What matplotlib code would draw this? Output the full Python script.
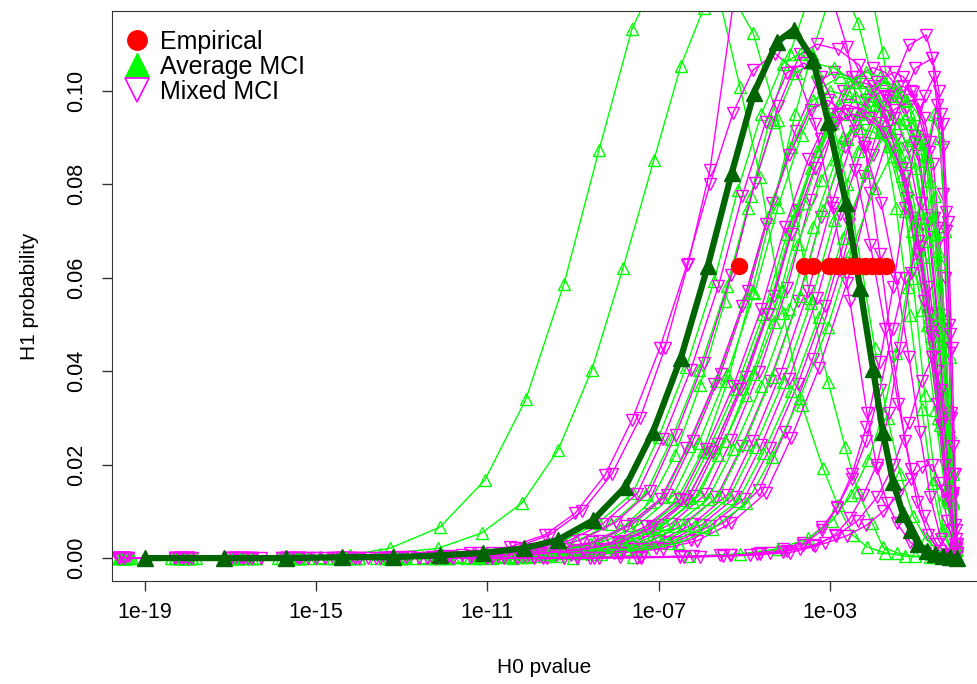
import matplotlib.pyplot as plt
from matplotlib.lines import Line2D
import numpy as np

plt.rcParams['font.family'] = ['Liberation Sans', 'DejaVu Sans']

# log10(H0 pvalue) and H1 probability, one pair of lists per curve

# Average MCI (green, open up-triangles)
avg_1_lp = [-19.5, -18.1, -16.8, -15.5, -14.2, -13.28, -12.11, -11.06, -10.10, -9.21, -8.39, -7.62, -6.85, -6.27, -5.66, -5.10, -4.63, -4.09, -3.65, -3.16, -2.81, -2.46, -2.13, -1.71, -1.24, -0.66, -0.07]
avg_1_h1 = [0, 0, 0.0001, 0.0003, 0.0007, 0.0021, 0.0066, 0.0167, 0.0340, 0.0587, 0.0874, 0.1133, 0.1281, 0.1313, 0.1229, 0.1009, 0.0816, 0.0525, 0.0328, 0.0193, 0.0113, 0.0049, 0.0024, 0.0011, 0.0004, 0.0002, 0.0001]
avg_2_lp = [-19.4, -17.9, -16.4, -14.9, -13.5, -12.15, -11.13, -10.19, -9.35, -8.56, -7.83, -7.11, -6.48, -5.94, -5.38, -4.79, -4.21, -3.81, -3.46, -3.04, -2.64, -2.34, -2.01, -1.76, -1.43, -1.01, -0.54]
avg_2_h1 = [0, 0, 0, 0.0002, 0.0008, 0.0021, 0.0054, 0.0118, 0.0231, 0.0403, 0.0621, 0.0852, 0.1054, 0.1178, 0.1220, 0.1124, 0.0938, 0.0745, 0.0557, 0.0377, 0.0238, 0.0141, 0.0075, 0.0024, 0.0011, 0.0004, 0.0002]
avg_3_lp = [-19.6, -18.2, -16.9, -15.6, -14.3, -13.0, -11.7, -10.36, -9.42, -8.60, -7.90, -7.20, -6.62, -6.03, -5.45, -4.91, -4.40, -3.93, -3.42, -2.88, -2.34, -1.87, -1.45, -1.13, -0.85, -0.61, -0.38, -0.14]
avg_3_h1 = [0, 0, 0, 0, 0, 0.0001, 0.0002, 0.0005, 0.0012, 0.003, 0.006, 0.012, 0.022, 0.037, 0.055, 0.075, 0.094, 0.108, 0.122, 0.126, 0.1146, 0.098, 0.075, 0.052, 0.032, 0.016, 0.006, 0.001]
avg_4_lp = [-19.45, -18.0, -16.6, -15.3, -14.0, -12.7, -11.4, -10.5, -9.65, -8.72, -7.90, -7.20, -6.55, -5.96, -5.38, -4.82, -4.28, -3.81, -3.42, -3.00, -2.48, -2.01, -1.76, -1.36, -1.06, -0.78, -0.54, -0.33, -0.12]
avg_4_h1 = [0, 0, 0, 0, 0, 0.0001, 0.0002, 0.0003, 0.0005, 0.0013, 0.003, 0.0065, 0.013, 0.023, 0.038, 0.057, 0.077, 0.095, 0.108, 0.12, 0.126, 0.12, 0.1083, 0.085, 0.06, 0.035, 0.017, 0.006, 0.001]
avg_5_lp = [-19.55, -18.2, -16.9, -15.7, -14.5, -13.3, -12.2, -11.06, -10.06, -9.06, -8.26, -7.46, -6.66, -6.06, -5.41, -4.76, -4.21, -3.66, -3.16, -2.76, -2.35, -1.95, -1.40, -1.00, -0.67, -0.43, -0.24, -0.05]
avg_5_h1 = [0, 0, 0, 0, 0, 0, 0.0002, 0.0005, 0.0010, 0.0020, 0.0036, 0.0072, 0.0134, 0.0247, 0.0391, 0.0567, 0.0752, 0.0906, 0.1009, 0.1030, 0.1020, 0.0989, 0.0886, 0.0721, 0.0515, 0.0309, 0.0134, 0.0021]
avg_6_lp = [-19.3, -17.8, -16.5, -15.2, -14.0, -12.9, -11.8, -10.7, -9.7, -8.7, -7.9, -7.1, -6.3, -5.7, -5.05, -4.4, -3.85, -3.3, -2.8, -2.4, -2.05, -1.70, -1.23, -0.89, -0.61, -0.40, -0.23, -0.07]
avg_6_h1 = [0, 0, 0, 0, 0, 0.0001, 0.0002, 0.0005, 0.0010, 0.0019, 0.0035, 0.0069, 0.0129, 0.0238, 0.0376, 0.0545, 0.0723, 0.0871, 0.0970, 0.0990, 0.0980, 0.0950, 0.0851, 0.0693, 0.0495, 0.0297, 0.0129, 0.0020]
avg_7_lp = [-19.6, -18.4, -17.0, -15.8, -14.6, -13.4, -12.3, -11.4, -10.45, -9.45, -8.45, -7.65, -6.85, -6.05, -5.45, -4.8, -4.15, -3.6, -3.05, -2.55, -2.15, -1.83, -1.52, -1.10, -0.78, -0.53, -0.34, -0.20, -0.05]
avg_7_h1 = [0, 0, 0, 0, 0, 0, 0.0001, 0.0003, 0.0005, 0.0010, 0.0020, 0.0036, 0.0073, 0.0135, 0.0250, 0.0395, 0.0572, 0.0759, 0.0915, 0.1019, 0.1040, 0.1030, 0.0998, 0.0894, 0.0728, 0.0520, 0.0312, 0.0135, 0.0021]
avg_8_lp = [-19.45, -18.0, -16.7, -15.5, -14.3, -13.2, -12.1, -11.1, -10.25, -9.25, -8.25, -7.45, -6.65, -5.85, -5.25, -4.6, -3.95, -3.4, -2.85, -2.35, -1.95, -1.67, -1.39, -1.01, -0.73, -0.50, -0.33, -0.20, -0.07]
avg_8_h1 = [0, 0, 0, 0, 0, 0, 0.0001, 0.0003, 0.0005, 0.0010, 0.0018, 0.0034, 0.0068, 0.0126, 0.0233, 0.0369, 0.0534, 0.0708, 0.0854, 0.0951, 0.0970, 0.0960, 0.0931, 0.0834, 0.0679, 0.0485, 0.0291, 0.0126, 0.0019]
avg_9_lp = [-19.6, -18.3, -17.1, -15.9, -14.7, -13.6, -12.5, -11.5, -10.7, -10.0, -9.0, -8.0, -7.2, -6.4, -5.6, -5.0, -4.35, -3.7, -3.15, -2.6, -2.1, -1.7, -1.45, -1.20, -0.87, -0.63, -0.43, -0.28, -0.17, -0.05]
avg_9_h1 = [0, 0, 0, 0, 0, 0, 0, 0.0001, 0.0003, 0.0005, 0.0010, 0.0019, 0.0036, 0.0071, 0.0133, 0.0245, 0.0388, 0.0561, 0.0745, 0.0898, 0.1000, 0.1020, 0.1010, 0.0979, 0.0877, 0.0714, 0.0510, 0.0306, 0.0133, 0.0020]
avg_10_lp = [-19.5, -18.1, -16.8, -15.6, -14.4, -13.3, -12.2, -11.2, -10.4, -9.75, -8.75, -7.75, -6.95, -6.15, -5.35, -4.75, -4.1, -3.45, -2.9, -2.35, -1.85, -1.45, -1.24, -1.04, -0.76, -0.55, -0.39, -0.26, -0.17, -0.07]
avg_10_h1 = [0, 0, 0, 0, 0, 0, 0, 0.0001, 0.0003, 0.0005, 0.0010, 0.0019, 0.0035, 0.0069, 0.0129, 0.0238, 0.0376, 0.0545, 0.0723, 0.0871, 0.0970, 0.0990, 0.0980, 0.0950, 0.0851, 0.0693, 0.0495, 0.0297, 0.0129, 0.0020]
avg_11_lp = [-19.35, -17.9, -16.6, -15.4, -14.2, -13.0, -11.9, -10.9, -10.1, -9.55, -8.55, -7.55, -6.75, -5.95, -5.15, -4.55, -3.9, -3.25, -2.7, -2.15, -1.65, -1.25, -1.07, -0.89, -0.65, -0.47, -0.33, -0.22, -0.13, -0.05]
avg_11_h1 = [0, 0, 0, 0, 0, 0, 0, 0.0001, 0.0003, 0.0005, 0.0009, 0.0018, 0.0033, 0.0066, 0.0122, 0.0226, 0.0357, 0.0517, 0.0686, 0.0827, 0.0921, 0.0940, 0.0931, 0.0902, 0.0808, 0.0658, 0.0470, 0.0282, 0.0122, 0.0019]
avg_12_lp = [-19.5, -18.0, -16.6, -15.3, -14.1, -13.0, -11.9, -10.85, -9.85, -8.85, -8.05, -7.25, -6.45, -5.85, -5.2, -4.55, -4.0, -3.45, -2.95, -2.55, -2.18, -1.81, -1.31, -0.94, -0.64, -0.42, -0.24, -0.07]
avg_12_h1 = [0, 0, 0, 0, 0, 0.0001, 0.0003, 0.0005, 0.0010, 0.0018, 0.0033, 0.0067, 0.0124, 0.0228, 0.0361, 0.0523, 0.0694, 0.0836, 0.0931, 0.0950, 0.0941, 0.0912, 0.0817, 0.0665, 0.0475, 0.0285, 0.0124, 0.0019]
avg_13_lp = [-19.6, -18.2, -16.9, -15.7, -14.5, -13.3, -12.2, -11.2, -10.2, -9.35, -8.35, -7.35, -6.55, -5.75, -4.95, -4.35, -3.7, -3.05, -2.5, -1.95, -1.45, -1.05, -0.90, -0.75, -0.55, -0.40, -0.28, -0.19, -0.12, -0.05]
avg_13_h1 = [0, 0, 0, 0, 0, 0, 0, 0.0001, 0.0003, 0.0005, 0.0009, 0.0017, 0.0032, 0.0063, 0.0117, 0.0216, 0.0342, 0.0495, 0.0657, 0.0792, 0.0882, 0.0900, 0.0891, 0.0864, 0.0774, 0.0630, 0.0450, 0.0270, 0.0117, 0.0018]
avg_14_lp = [-19.5, -18.2, -16.9, -15.6, -14.4, -13.2, -12.5, -11.7, -10.7, -9.7, -8.9, -8.1, -7.3, -6.7, -6.05, -5.4, -4.85, -4.3, -3.8, -3.4, -2.90, -2.40, -1.73, -1.24, -0.84, -0.54, -0.30, -0.07]
avg_14_h1 = [0, 0, 0, 0, 0, 0.0001, 0.0003, 0.0005, 0.0011, 0.0020, 0.0037, 0.0074, 0.0138, 0.0254, 0.0403, 0.0583, 0.0774, 0.0933, 0.1039, 0.1060, 0.1049, 0.1018, 0.0912, 0.0742, 0.0530, 0.0318, 0.0138, 0.0021]
avg_15_lp = [-19.6, -18.3, -17.0, -15.7, -14.5, -13.3, -12.2, -11.3, -10.3, -9.3, -8.5, -7.7, -6.9, -6.3, -5.65, -5.0, -4.45, -3.9, -3.4, -3.0, -2.56, -2.11, -1.52, -1.08, -0.73, -0.46, -0.26, -0.05]
avg_15_h1 = [0, 0, 0, 0, 0, 0.0001, 0.0003, 0.0005, 0.0010, 0.0019, 0.0035, 0.0070, 0.0130, 0.0240, 0.0380, 0.0550, 0.0730, 0.0880, 0.0980, 0.1000, 0.0990, 0.0960, 0.0860, 0.0700, 0.0500, 0.0300, 0.0130, 0.0020]
avg_16_lp = [-19.4, -18.0, -16.7, -15.4, -14.2, -13.0, -12.0, -11.0, -10.0, -9.2, -8.4, -7.6, -7.0, -6.35, -5.7, -5.15, -4.6, -4.1, -3.7, -3.3, -2.95, -2.6, -2.25, -1.95, -1.65, -1.35, -1.05, -0.75, -0.45, -0.15]
avg_16_h1 = [0, 0, 0, 0, 0, 0.0002, 0.0005, 0.0011, 0.0021, 0.0038, 0.0076, 0.0140, 0.0259, 0.0410, 0.0594, 0.0788, 0.0950, 0.1058, 0.1080, 0.104, 0.094, 0.080, 0.062, 0.045, 0.030, 0.018, 0.009, 0.004, 0.0015, 0.0004]
avg_17_lp = [-19.55, -18.1, -16.8, -15.5, -14.3, -13.1, -12.0, -11.2, -10.6, -9.6, -8.6, -7.8, -7.0, -6.2, -5.6, -4.95, -4.3, -3.75, -3.2, -2.7, -2.3, -1.96, -1.62, -1.17, -0.84, -0.57, -0.36, -0.21, -0.05]
avg_17_h1 = [0, 0, 0, 0, 0, 0, 0.0001, 0.0003, 0.0005, 0.0009, 0.0017, 0.0032, 0.0064, 0.0120, 0.0221, 0.0350, 0.0506, 0.0672, 0.0810, 0.0902, 0.0920, 0.0911, 0.0883, 0.0791, 0.0644, 0.0460, 0.0276, 0.0120, 0.0018]
avg_18_lp = [-19.55, -18.0, -16.4, -14.9, -13.4, -11.9, -10.4, -9.0, -7.6, -6.3, -5.1, -4.2, -3.5, -2.95, -2.5, -2.1, -1.75, -1.45, -1.18, -0.95, -0.75, -0.57, -0.42, -0.30, -0.20, -0.12, -0.05]
avg_18_h1 = [0, 0, 0, 0, 0, 0, 0, 0.0001, 0.0002, 0.0004, 0.0009, 0.0020, 0.0042, 0.0080, 0.0135, 0.0210, 0.031, 0.044, 0.058, 0.073, 0.086, 0.095, 0.090, 0.070, 0.043, 0.018, 0.003]

# Mixed MCI (magenta, open down-triangles)
mix_1_lp = [-19.63, -18.3, -17.0, -15.7, -14.4, -13.2, -12.11, -11.22, -10.36, -9.54, -8.79, -8.09, -7.43, -6.85, -6.31, -5.80, -5.21, -4.58, -3.93, -3.28, -2.60, -2.18, -1.83, -1.52, -1.24, -0.96, -0.71, -0.43, -0.15]
mix_1_h1 = [0, 0, 0, 0, 0.0001, 0.0002, 0.0004, 0.001, 0.0022, 0.005, 0.010, 0.018, 0.030, 0.045, 0.063, 0.083, 0.1216, 0.132, 0.136, 0.13, 0.1094, 0.088, 0.065, 0.043, 0.025, 0.012, 0.005, 0.0015, 0.0003]
mix_2_lp = [-19.5, -18.0, -16.6, -15.3, -14.0, -12.8, -11.41, -10.47, -9.65, -8.95, -8.25, -7.62, -6.97, -6.34, -5.80, -5.26, -4.79, -4.28, -3.77, -3.35, -2.93, -2.53, -2.13, -1.90, -1.66, -1.43, -1.13, -0.78, -0.43, -0.07]
mix_2_h1 = [0, 0, 0, 0, 0.0001, 0.0003, 0.001, 0.0024, 0.005, 0.0096, 0.0178, 0.0296, 0.045, 0.0627, 0.080, 0.0953, 0.1045, 0.108, 0.104, 0.093, 0.075, 0.055, 0.031, 0.0193, 0.0118, 0.0075, 0.0035, 0.0012, 0.0004, 0.0001]
mix_3_lp = [-19.63, -18.3, -17.0, -15.8, -14.6, -13.4, -12.3, -11.2, -10.2, -9.2, -8.4, -7.6, -6.8, -6.2, -5.55, -4.9, -4.35, -3.8, -3.3, -2.9, -2.47, -2.04, -1.47, -1.05, -0.71, -0.45, -0.25, -0.05]
mix_3_h1 = [0, 0, 0, 0, 0, 0.0001, 0.0003, 0.0005, 0.0010, 0.0020, 0.0036, 0.0073, 0.0135, 0.0250, 0.0395, 0.0572, 0.0759, 0.0915, 0.1019, 0.1040, 0.1030, 0.0998, 0.0894, 0.0728, 0.0520, 0.0312, 0.0135, 0.0021]
mix_4_lp = [-19.4, -18.0, -16.7, -15.4, -14.2, -13.1, -12.0, -11.2, -10.6, -9.6, -8.6, -7.8, -7.0, -6.2, -5.6, -4.95, -4.3, -3.75, -3.2, -2.7, -2.3, -1.97, -1.63, -1.18, -0.85, -0.58, -0.38, -0.23, -0.07]
mix_4_h1 = [0, 0, 0, 0, 0, 0, 0.0001, 0.0003, 0.0005, 0.0010, 0.0019, 0.0036, 0.0071, 0.0133, 0.0245, 0.0388, 0.0561, 0.0745, 0.0898, 0.1000, 0.1020, 0.1010, 0.0979, 0.0877, 0.0714, 0.0510, 0.0306, 0.0133, 0.0020]
mix_5_lp = [-19.6, -18.2, -16.9, -15.6, -14.4, -13.3, -12.2, -11.2, -10.3, -9.3, -8.3, -7.5, -6.7, -5.9, -5.3, -4.65, -4.0, -3.45, -2.9, -2.4, -2.0, -1.71, -1.41, -1.02, -0.73, -0.50, -0.32, -0.19, -0.05]
mix_5_h1 = [0, 0, 0, 0, 0, 0, 0.0001, 0.0003, 0.0005, 0.0011, 0.0020, 0.0037, 0.0074, 0.0137, 0.0252, 0.0399, 0.0578, 0.0767, 0.0924, 0.1029, 0.1050, 0.1040, 0.1008, 0.0903, 0.0735, 0.0525, 0.0315, 0.0137, 0.0021]
mix_6_lp = [-19.5, -18.1, -16.8, -15.5, -14.3, -13.2, -12.1, -11.0, -10.05, -9.05, -8.05, -7.25, -6.45, -5.65, -5.05, -4.4, -3.75, -3.2, -2.65, -2.15, -1.75, -1.50, -1.25, -0.91, -0.66, -0.46, -0.31, -0.19, -0.07]
mix_6_h1 = [0, 0, 0, 0, 0, 0, 0.0001, 0.0003, 0.0005, 0.0010, 0.0019, 0.0035, 0.0070, 0.0130, 0.0240, 0.0380, 0.0550, 0.0730, 0.0880, 0.0980, 0.1000, 0.0990, 0.0960, 0.0860, 0.0700, 0.0500, 0.0300, 0.0130, 0.0020]
mix_7_lp = [-19.63, -18.3, -17.0, -15.7, -14.5, -13.4, -12.3, -11.3, -10.5, -9.8, -8.8, -7.8, -7.0, -6.2, -5.4, -4.8, -4.15, -3.5, -2.95, -2.4, -1.9, -1.5, -1.28, -1.06, -0.77, -0.56, -0.38, -0.25, -0.15, -0.05]
mix_7_h1 = [0, 0, 0, 0, 0, 0, 0, 0.0001, 0.0003, 0.0005, 0.0010, 0.0020, 0.0036, 0.0073, 0.0135, 0.0250, 0.0395, 0.0572, 0.0759, 0.0915, 0.1019, 0.1040, 0.1030, 0.0998, 0.0894, 0.0728, 0.0520, 0.0312, 0.0135, 0.0021]
mix_8_lp = [-19.4, -18.0, -16.6, -15.4, -14.2, -13.0, -11.9, -10.9, -10.2, -9.6, -8.6, -7.6, -6.8, -6.0, -5.2, -4.6, -3.95, -3.3, -2.75, -2.2, -1.7, -1.3, -1.11, -0.92, -0.67, -0.49, -0.34, -0.22, -0.14, -0.05]
mix_8_h1 = [0, 0, 0, 0, 0, 0, 0, 0.0001, 0.0003, 0.0005, 0.0010, 0.0019, 0.0035, 0.0071, 0.0131, 0.0242, 0.0384, 0.0556, 0.0737, 0.0889, 0.0990, 0.1010, 0.1000, 0.0970, 0.0869, 0.0707, 0.0505, 0.0303, 0.0131, 0.0020]
mix_9_lp = [-19.6, -18.2, -16.9, -15.7, -14.5, -13.3, -12.2, -11.2, -10.3, -9.4, -8.4, -7.4, -6.6, -5.8, -5.0, -4.4, -3.75, -3.1, -2.55, -2.0, -1.5, -1.1, -0.95, -0.79, -0.58, -0.43, -0.31, -0.21, -0.14, -0.07]
mix_9_h1 = [0, 0, 0, 0, 0, 0, 0, 0.0001, 0.0003, 0.0005, 0.0010, 0.0019, 0.0034, 0.0069, 0.0127, 0.0235, 0.0372, 0.0539, 0.0715, 0.0862, 0.0960, 0.0980, 0.0970, 0.0941, 0.0843, 0.0686, 0.0490, 0.0294, 0.0127, 0.0020]
mix_10_lp = [-19.6, -18.3, -17.0, -15.8, -14.6, -13.4, -12.3, -11.2, -10.1, -9.05, -8.05, -7.05, -6.25, -5.45, -4.65, -4.05, -3.4, -2.75, -2.2, -1.65, -1.15, -0.75, -0.60, -0.46, -0.35, -0.30, -0.22, -0.17, -0.12, -0.07, -0.02]
mix_10_h1 = [0, 0, 0, 0, 0, 0, 0, 0.0001, 0.0003, 0.0006, 0.0011, 0.0021, 0.0039, 0.0078, 0.0146, 0.0269, 0.0426, 0.0616, 0.0818, 0.0986, 0.1098, 0.1120, 0.107, 0.093, 0.078, 0.060, 0.044, 0.031, 0.018, 0.007, 0.001]
mix_11_lp = [-19.5, -18.1, -16.8, -15.6, -14.4, -13.2, -12.0, -10.9, -9.9, -8.9, -7.9, -6.9, -6.1, -5.3, -4.5, -3.9, -3.25, -2.6, -2.05, -1.5, -1.0, -0.6, -0.45, -0.35, -0.28, -0.22, -0.16, -0.11, -0.06, -0.02]
mix_11_h1 = [0, 0, 0, 0, 0, 0, 0, 0.0001, 0.0003, 0.0005, 0.0011, 0.0020, 0.0037, 0.0075, 0.0139, 0.0257, 0.0407, 0.0589, 0.0781, 0.0942, 0.1049, 0.1070, 0.100, 0.088, 0.070, 0.050, 0.030, 0.014, 0.004, 0.0005]
mix_12_lp = [-19.5, -18.1, -16.8, -15.5, -14.3, -13.1, -12.0, -10.9, -9.9, -8.9, -8.1, -7.3, -6.5, -5.9, -5.25, -4.6, -4.05, -3.5, -3.0, -2.6, -2.22, -1.83, -1.32, -0.94, -0.64, -0.41, -0.23, -0.05]
mix_12_h1 = [0, 0, 0, 0, 0, 0.0001, 0.0003, 0.0005, 0.0010, 0.0018, 0.0034, 0.0068, 0.0126, 0.0233, 0.0369, 0.0534, 0.0708, 0.0854, 0.0951, 0.0970, 0.0960, 0.0931, 0.0834, 0.0679, 0.0485, 0.0291, 0.0126, 0.0019]
mix_13_lp = [-19.55, -18.0, -16.5, -15.0, -13.6, -12.2, -10.9, -9.6, -8.4, -7.4, -6.50, -5.57, -4.63, -4.09, -3.63, -3.18, -2.83, -2.48, -2.15, -1.83, -1.52, -1.24, -0.96, -0.71, -0.50, -0.31, -0.15, -0.03]
mix_13_h1 = [0, 0, 0, 0, 0, 0, 0, 0, 0.0001, 0.0002, 0.0003, 0.0006, 0.0012, 0.0019, 0.0032, 0.0066, 0.0109, 0.0170, 0.0250, 0.036, 0.049, 0.060, 0.065, 0.058, 0.040, 0.020, 0.006, 0.001]
mix_14_lp = [-19.6, -18.2, -16.8, -15.4, -14.0, -12.6, -11.2, -9.9, -8.6, -7.4, -6.2, -5.3, -4.4, -3.7, -3.1, -2.6, -2.15, -1.75, -1.4, -1.1, -0.84, -0.6, -0.43, -0.25, -0.08]
mix_14_h1 = [0, 0, 0, 0, 0, 0, 0, 0, 0.0001, 0.0002, 0.0004, 0.0007, 0.0012, 0.0020, 0.0032, 0.0048, 0.0070, 0.0100, 0.0135, 0.0170, 0.0195, 0.0200, 0.0160, 0.0080, 0.0015]
mix_15_lp = [-19.63, -18.2, -16.9, -15.6, -14.4, -13.2, -12.3, -11.6, -10.6, -9.6, -8.8, -8.0, -7.2, -6.6, -5.95, -5.3, -4.75, -4.2, -3.7, -3.3, -2.81, -2.32, -1.67, -1.19, -0.80, -0.50, -0.28, -0.05]
mix_15_h1 = [0, 0, 0, 0, 0, 0.0001, 0.0003, 0.0006, 0.0011, 0.0021, 0.0039, 0.0077, 0.0143, 0.0264, 0.0418, 0.0605, 0.0803, 0.0968, 0.1078, 0.1100, 0.1089, 0.1056, 0.0946, 0.0770, 0.0550, 0.0330, 0.0143, 0.0022]
mix_16_lp = [-19.45, -18.0, -16.7, -15.4, -14.2, -13.1, -12.1, -11.35, -10.35, -9.35, -8.55, -7.75, -6.95, -6.35, -5.7, -5.05, -4.5, -3.95, -3.45, -3.05, -2.6, -2.2, -1.8, -1.45, -1.15, -0.9, -0.65, -0.4, -0.15]
mix_16_h1 = [0, 0, 0, 0, 0, 0.0001, 0.0003, 0.0005, 0.0010, 0.0019, 0.0034, 0.0069, 0.0127, 0.0235, 0.0372, 0.0539, 0.0715, 0.0862, 0.0960, 0.0980, 0.095, 0.088, 0.076, 0.060, 0.043, 0.027, 0.013, 0.004, 0.0008]
mix_17_lp = [-19.6, -18.3, -17.0, -15.7, -14.5, -13.3, -12.2, -11.4, -10.75, -9.75, -8.75, -7.95, -7.15, -6.35, -5.75, -5.1, -4.45, -3.9, -3.35, -2.85, -2.45, -2.09, -1.73, -1.25, -0.89, -0.60, -0.39, -0.22, -0.05]
mix_17_h1 = [0, 0, 0, 0, 0, 0, 0.0001, 0.0003, 0.0005, 0.0010, 0.0018, 0.0033, 0.0067, 0.0124, 0.0228, 0.0361, 0.0523, 0.0694, 0.0836, 0.0931, 0.0950, 0.0941, 0.0912, 0.0817, 0.0665, 0.0475, 0.0285, 0.0124, 0.0019]
mix_18_lp = [-19.5, -18.1, -16.7, -15.4, -14.1, -12.9, -11.9, -10.9, -9.9, -9.1, -8.3, -7.5, -6.9, -6.25, -5.6, -5.05, -4.5, -4.0, -3.6, -3.2, -2.8, -2.4, -2.05, -1.7, -1.4, -1.1, -0.8, -0.5, -0.2]
mix_18_h1 = [0, 0, 0, 0, 0, 0.0002, 0.0005, 0.0011, 0.0020, 0.0037, 0.0074, 0.0138, 0.0254, 0.0403, 0.0583, 0.0774, 0.0933, 0.1039, 0.1060, 0.103, 0.095, 0.083, 0.067, 0.049, 0.033, 0.019, 0.009, 0.003, 0.0006]
mix_19_lp = [-19.5, -18.0, -16.6, -15.2, -13.8, -12.4, -11.0, -9.7, -8.5, -7.4, -6.4, -5.5, -4.7, -4.0, -3.4, -2.85, -2.35, -1.9, -1.5, -1.15, -0.85, -0.6, -0.4, -0.22, -0.07]
mix_19_h1 = [0, 0, 0, 0, 0, 0, 0, 0, 0, 0.0001, 0.0002, 0.0004, 0.0008, 0.0015, 0.0027, 0.0048, 0.0080, 0.0130, 0.0200, 0.0290, 0.0380, 0.0430, 0.0360, 0.0180, 0.0030]
mix_20_lp = [-19.6, -18.0, -16.5, -15.0, -13.5, -12.0, -10.6, -9.2, -7.90, -6.50, -5.33, -4.63, -4.09, -3.63, -3.18, -2.83, -2.48, -2.15, -1.83, -1.52, -1.24, -1.01, -0.78, -0.57, -0.41, -0.29, -0.19, -0.12, -0.05, -0.02]
mix_20_h1 = [0, 0, 0, 0, 0, 0, 0, 0.0001, 0.0002, 0.0004, 0.0006, 0.0009, 0.0014, 0.0028, 0.0060, 0.0108, 0.018, 0.028, 0.042, 0.058, 0.075, 0.089, 0.099, 0.103, 0.095, 0.074, 0.048, 0.024, 0.006, 0.001]
mix_21_lp = [-19.5, -17.9, -16.3, -14.8, -13.3, -11.8, -10.3, -8.9, -7.5, -6.03, -4.86, -3.93, -3.35, -2.88, -2.53, -2.22, -1.90, -1.62, -1.36, -1.10, -0.87, -0.66, -0.50, -0.36, -0.24, -0.15, -0.07, -0.02]
mix_21_h1 = [0, 0, 0, 0, 0, 0, 0, 0.0001, 0.0001, 0.0003, 0.0006, 0.0012, 0.0025, 0.0050, 0.0085, 0.0135, 0.0200, 0.031, 0.045, 0.061, 0.076, 0.089, 0.097, 0.093, 0.072, 0.045, 0.018, 0.003]

# average of all MCI curves (dark green, thick)
mean_lp = [-19.0, -17.15, -15.7, -14.4, -13.2, -12.1, -11.1, -10.15, -9.35, -8.53, -7.78, -7.13, -6.48, -5.85, -5.29, -4.77, -4.23, -3.84, -3.39, -3.04, -2.62, -2.29, -1.99, -1.76, -1.52, -1.29, -1.10, -0.94, -0.73, -0.54, -0.36, -0.19, -0.03]
mean_h1 = [0, 0, 0, 0.0002, 0.0002, 0.0006, 0.0011, 0.0021, 0.0039, 0.0081, 0.0152, 0.0270, 0.0428, 0.0625, 0.0824, 0.0996, 0.1105, 0.1131, 0.1067, 0.0934, 0.0760, 0.0578, 0.0405, 0.0270, 0.0163, 0.0094, 0.0060, 0.0030, 0.0015, 0.0008, 0.0004, 0.0002, 0.0]

# empirical points
emp_lp = [-5.11, -3.61, -3.40, -3.02, -2.86, -2.70, -2.51, -2.35, -2.18, -2.02, -1.85, -1.69]
emp_h1 = [0.0625] * len(emp_lp)

avg_curves = [(avg_1_lp, avg_1_h1), (avg_2_lp, avg_2_h1), (avg_3_lp, avg_3_h1), (avg_4_lp, avg_4_h1),
              (avg_5_lp, avg_5_h1), (avg_6_lp, avg_6_h1), (avg_7_lp, avg_7_h1), (avg_8_lp, avg_8_h1),
              (avg_9_lp, avg_9_h1), (avg_10_lp, avg_10_h1), (avg_11_lp, avg_11_h1), (avg_12_lp, avg_12_h1),
              (avg_13_lp, avg_13_h1), (avg_14_lp, avg_14_h1), (avg_15_lp, avg_15_h1), (avg_16_lp, avg_16_h1),
              (avg_17_lp, avg_17_h1), (avg_18_lp, avg_18_h1)]
mix_curves = [(mix_1_lp, mix_1_h1), (mix_2_lp, mix_2_h1), (mix_3_lp, mix_3_h1), (mix_4_lp, mix_4_h1),
              (mix_5_lp, mix_5_h1), (mix_6_lp, mix_6_h1), (mix_7_lp, mix_7_h1), (mix_8_lp, mix_8_h1),
              (mix_9_lp, mix_9_h1), (mix_10_lp, mix_10_h1), (mix_11_lp, mix_11_h1), (mix_12_lp, mix_12_h1),
              (mix_13_lp, mix_13_h1), (mix_14_lp, mix_14_h1), (mix_15_lp, mix_15_h1), (mix_16_lp, mix_16_h1),
              (mix_17_lp, mix_17_h1), (mix_18_lp, mix_18_h1), (mix_19_lp, mix_19_h1), (mix_20_lp, mix_20_h1),
              (mix_21_lp, mix_21_h1)]

GREEN = '#00ff00'
MAGENTA = '#ff00ff'

fig = plt.figure(figsize=(9.77, 6.84), dpi=100)
ax = fig.add_axes([112/977, 103/684, 865/977, 570/684])

# draw the two families interleaved
for i in range(max(len(avg_curves), len(mix_curves))):
    if i < len(avg_curves):
        lp, h1 = avg_curves[i]
        ax.plot(10.0**np.array(lp), h1, color=GREEN, lw=1, marker='^', ms=8.5,
                mfc='none', mec=GREEN, mew=1)
    if i < len(mix_curves):
        lp, h1 = mix_curves[i]
        ax.plot(10.0**np.array(lp), h1, color=MAGENTA, lw=1, marker='v', ms=8.5,
                mfc='none', mec=MAGENTA, mew=1)

ax.plot(10.0**np.array(mean_lp), mean_h1, color='#006400', lw=4.5, marker='^', ms=11)
ax.plot(10.0**np.array(emp_lp), emp_h1, ls='none', marker='o', color='red', ms=11.5)

ax.set_xscale('log')
ax.set_xlim(10**-19.77, 10**0.44)
ax.set_ylim(-0.0049, 0.1171)

ax.set_xticks([1e-19, 1e-15, 1e-11, 1e-07, 1e-03])
ax.set_xticklabels(['1e-19', '1e-15', '1e-11', '1e-07', '1e-03'])
ax.xaxis.set_minor_locator(plt.NullLocator())
ax.set_yticks([0, 0.02, 0.04, 0.06, 0.08, 0.10])
ax.set_yticklabels(['0.00', '0.02', '0.04', '0.06', '0.08', '0.10'], rotation=90, va='center')
ax.tick_params(axis='both', direction='out', length=7, width=1, labelsize=15.5, color='#333333')
ax.tick_params(axis='x', pad=8)
ax.tick_params(axis='y', pad=11)
for s in ['left', 'bottom', 'top']:
    ax.spines[s].set_color('#333333')
ax.spines['right'].set_visible(False)

ax.set_xlabel('H0 pvalue', fontsize=15)
ax.set_ylabel('H1 probability', fontsize=15)
ax.xaxis.set_label_coords(0.5, -0.1526)
ax.xaxis.label.set_va('center')
ax.yaxis.set_label_coords(-0.095, 0.5)
ax.yaxis.label.set_va('center')
ax.yaxis.label.set_ha('center')

handles = [Line2D([], [], ls='none', marker='o', color='red', ms=14),
           Line2D([], [], ls='none', marker='^', color=GREEN, ms=17),
           Line2D([], [], ls='none', marker='v', mfc='none', mec=MAGENTA, mew=1.2, ms=17)]
ax.legend(handles, ['Empirical', 'Average MCI', 'Mixed MCI'], loc='upper left',
          bbox_to_anchor=(-0.006, 0.985), frameon=False, fontsize=18, labelspacing=0.04,
          handletextpad=0.12, handlelength=1.6, borderaxespad=0)

fig.savefig('out.png', dpi=100)
